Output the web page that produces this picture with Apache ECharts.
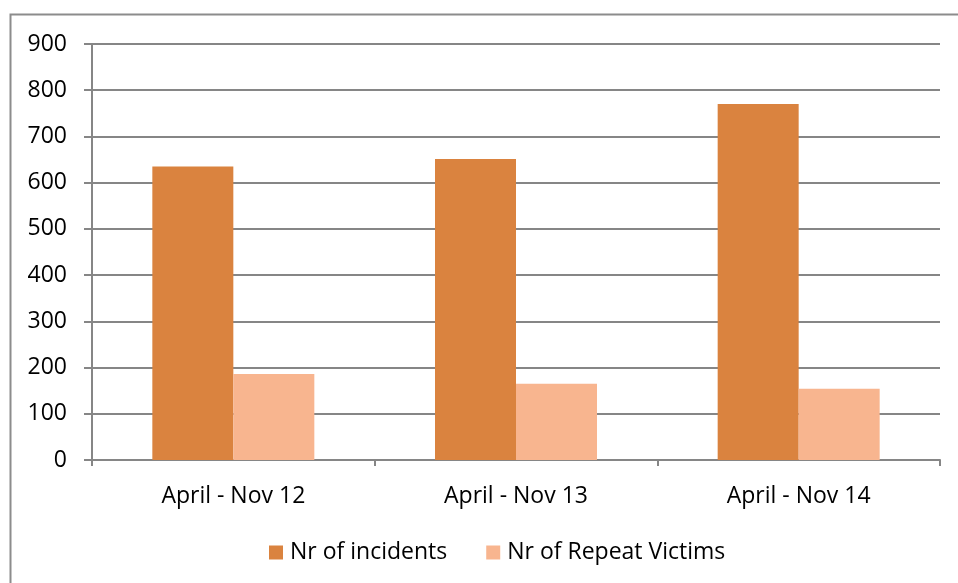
<!DOCTYPE html>
<html>
<head>
<meta charset="utf-8">
<script src="https://cdn.jsdelivr.net/npm/echarts@6/dist/echarts.min.js"></script>
<style>
  html, body { margin: 0; padding: 0; background: #fff; }
  #main { width: 958px; height: 583px; }
</style>
</head>
<body>
<div id="main"></div>
<script>
// chart data
const categories = ['April - Nov 12', 'April - Nov 13', 'April - Nov 14'];
const incidents = [635, 651, 770];
const repeatVictims = [186, 165, 154];
const yTicks = [0, 100, 200, 300, 400, 500, 600, 700, 800, 900];

const labelFont = 'Open Sans';
const myChart = echarts.init(document.getElementById('main'));

const option = {
  animation: false,
  graphic: [{
    type: 'rect',
    shape: { x: 10.5, y: 14.5, width: 980, height: 620 },
    style: { fill: 'none', stroke: '#8c8c8c', lineWidth: 2 }
  }],
  grid: { left: 92, right: 18, top: 44, bottom: 123 },
  legend: {
    top: 536,
    left: 264,
    itemWidth: 14,
    itemHeight: 14,
    itemGap: 39,
    icon: 'rect',
    textStyle: { fontFamily: labelFont, fontSize: 23, color: '#000', padding: [0, 0, 0, 2] },
    data: ['Nr of incidents', 'Nr of Repeat Victims']
  },
  xAxis: {
    type: 'category',
    data: categories,
    axisLine: { lineStyle: { color: '#868686', width: 2 } },
    axisTick: { show: true, length: 6, lineStyle: { color: '#868686', width: 2 } },
    axisLabel: { fontFamily: labelFont, fontSize: 23, color: '#000', margin: 25 }
  },
  yAxis: {
    type: 'value',
    min: yTicks[0],
    max: yTicks[yTicks.length - 1],
    interval: 100,
    axisLine: { show: true, lineStyle: { color: '#868686', width: 2 } },
    axisTick: { show: true, length: 8, lineStyle: { color: '#868686', width: 2 } },
    axisLabel: { fontFamily: labelFont, fontSize: 23, color: '#000', margin: 25 },
    splitLine: { lineStyle: { color: '#868686', width: 2 } }
  },
  series: [
    {
      name: 'Nr of incidents',
      type: 'bar',
      data: incidents,
      barWidth: 81,
      barGap: '0%',
      itemStyle: { color: '#DA833F' }
    },
    {
      name: 'Nr of Repeat Victims',
      type: 'bar',
      data: repeatVictims,
      barWidth: 81,
      itemStyle: { color: '#F8B58F' }
    }
  ]
};
myChart.setOption(option);
</script>
</body>
</html>
